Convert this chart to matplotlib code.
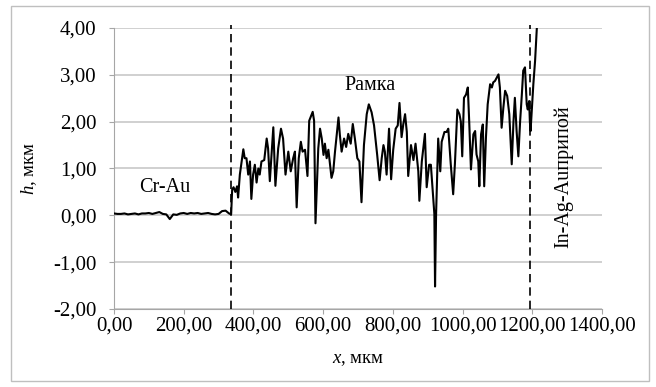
import matplotlib.pyplot as plt
from matplotlib import ticker
from matplotlib.patches import Rectangle

FONT_SIZE = 15
GRID_COLOR = "#c8c8c8"
AXIS_COLOR = "#a6a6a6"

plt.rcParams["font.family"] = ["Liberation Serif", "DejaVu Serif"]
plt.rcParams["mathtext.fontset"] = "custom"
plt.rcParams["mathtext.rm"] = "Liberation Serif"
plt.rcParams["mathtext.it"] = "Liberation Serif:italic"

# profile h(x)
x_um = [0, 10, 20, 30, 40, 50, 60, 70, 80, 90, 100, 110, 120, 130, 140, 150, 160, 170,
        180, 190, 200, 210, 220, 230, 240, 250, 260, 270, 280, 290, 300, 310, 320, 330,
        336, 339, 343, 348, 353, 356, 361, 371, 375, 380, 385, 390, 394, 399, 404, 409,
        414, 418, 423, 431, 438, 442, 447, 457, 463, 471, 479, 485, 492, 500, 507, 514,
        519, 524, 530, 536, 541, 548, 555, 560, 570, 574, 578, 586, 591, 596, 601, 605,
        610, 615, 624, 629, 634, 644, 648, 653, 660, 666, 672, 679, 685, 691, 698, 704,
        710, 717, 725, 731, 739, 746, 755, 762, 768, 773, 777, 782, 789, 795, 801, 808,
        814, 819, 825, 830, 835, 840, 844, 852, 859, 865, 873, 876, 883, 892, 897, 904,
        909, 913, 919, 921, 924, 930, 936, 940, 948, 954, 959, 966, 973, 978, 985, 991,
        995, 999, 1004, 1010, 1015, 1019, 1024, 1031, 1036, 1040, 1045, 1048, 1053, 1058,
        1062, 1067, 1072, 1079, 1084, 1088, 1093, 1098, 1103, 1107, 1112, 1117, 1122,
        1128, 1134, 1141, 1146, 1150, 1155, 1160, 1165, 1170, 1174, 1179, 1184, 1187,
        1191, 1193, 1195, 1199, 1203, 1208, 1213, 1216]
h_um = [0.04, 0.03, 0.03, 0.04, 0.02, 0.03, 0.04, 0.02, 0.04, 0.04, 0.05, 0.03, 0.05, 0.07,
        0.03, 0.02, -0.08, 0.02, 0.01, 0.04, 0.05, 0.03, 0.05, 0.04, 0.05, 0.03, 0.04, 0.05,
        0.03, 0.02, 0.03, 0.09, 0.10, 0.04, 0.02, 0.55, 0.60, 0.50, 0.62, 0.38, 0.87, 1.41,
        1.22, 1.22, 0.87, 1.15, 0.35, 0.87, 1.08, 0.70, 1.00, 0.87, 1.15, 1.18, 1.64, 1.43,
        0.73, 1.88, 0.63, 1.43, 1.85, 1.64, 0.87, 1.36, 0.94, 1.22, 1.36, 0.17, 1.22, 1.57,
        1.36, 1.40, 0.84, 2.02, 2.21, 2.02, -0.17, 1.43, 1.85, 1.64, 1.29, 1.53, 1.22, 1.40,
        0.80, 0.94, 1.36, 2.09, 1.71, 1.36, 1.64, 1.46, 1.74, 1.53, 1.95, 1.64, 1.22, 1.15,
        0.28, 1.50, 2.16, 2.37, 2.20, 1.92, 1.29, 0.75, 1.22, 1.50, 1.36, 0.87, 1.85, 0.77,
        1.40, 1.85, 1.92, 2.40, 1.67, 1.95, 2.16, 1.78, 0.84, 1.50, 1.18, 1.53, 0.94, 0.31,
        1.15, 1.74, 0.60, 1.08, 1.08, 0.66, 0.03, -1.52, 0.03, 1.64, 0.94, 1.57, 1.78, 1.78,
        1.85, 1.10, 0.45, 1.10, 2.26, 2.16, 2.00, 1.26, 2.51, 2.58, 2.73, 2.00, 0.98, 1.73,
        1.80, 1.30, 1.15, 0.62, 1.73, 1.94, 0.62, 1.66, 2.37, 2.80, 2.73, 2.84, 2.87, 2.94,
        3.01, 2.73, 1.87, 2.30, 2.66, 2.55, 2.16, 1.09, 2.00, 2.51, 1.80, 1.26, 2.00, 2.58,
        3.09, 3.16, 2.37, 2.26, 2.44, 2.00, 1.80, 2.30, 2.80, 3.30, 4.00, 4.30]

# boundaries between zones
borders_um = [336, 1192]

x_ticks = [0, 200, 400, 600, 800, 1000, 1200, 1400]
y_ticks = [-2, -1, 0, 1, 2, 3, 4]

zone_labels = ["Cr-Au", "Рамка", "In-Ag-Auприпой"]
zone_label_x = [146, 734, 1291]
zone_label_y = [0.6, 2.78, 0.82]


@ticker.FuncFormatter
def comma_formatter(v, pos):
    return f"{v:.2f}".replace(".", ",")


fig = plt.figure(figsize=(6.56, 3.87), dpi=100)
ax = fig.add_axes([0.1738, 0.2016, 0.7439, 0.726])

ax.plot(x_um, h_um, color="black", lw=1.5, zorder=3)

for b in borders_um:
    ax.plot([b, b], [-2, 4.07], color="black", lw=1.2, ls=(0, (5, 3)), clip_on=False, zorder=4)

ax.set_xlim(0, 1400)
ax.set_ylim(-2, 4)
ax.set_xticks(x_ticks)
ax.set_yticks(y_ticks)
ax.xaxis.set_major_formatter(comma_formatter)
ax.yaxis.set_major_formatter(comma_formatter)

ax.grid(axis="y", color=GRID_COLOR, lw=1.2)
ax.set_axisbelow(True)
for side in ["top", "right"]:
    ax.spines[side].set_visible(False)
for side in ["left", "bottom"]:
    ax.spines[side].set_color(AXIS_COLOR)
ax.tick_params(colors=AXIS_COLOR, labelcolor="black", labelsize=FONT_SIZE, length=3.6)
ax.tick_params(axis="x", pad=2)
ax.tick_params(axis="y", pad=9)

ax.set_xlabel(r"$x$, мкм", fontsize=FONT_SIZE - 1.5, labelpad=11)
ax.set_ylabel(r"$h$, мкм", fontsize=FONT_SIZE - 1.5, labelpad=10)

# names of the zones
for i, name in enumerate(zone_labels):
    ax.text(zone_label_x[i], zone_label_y[i], name, fontsize=FONT_SIZE - 0.5,
            ha="center", va="center", rotation=90 if i == 2 else 0)

# grey frame round the whole chart
fig.patches.append(Rectangle((11 / 656, 6 / 387), 638 / 656, 375 / 387, transform=fig.transFigure,
                             fill=False, edgecolor="#bfbfbf", lw=1))

plt.savefig("out.png")
